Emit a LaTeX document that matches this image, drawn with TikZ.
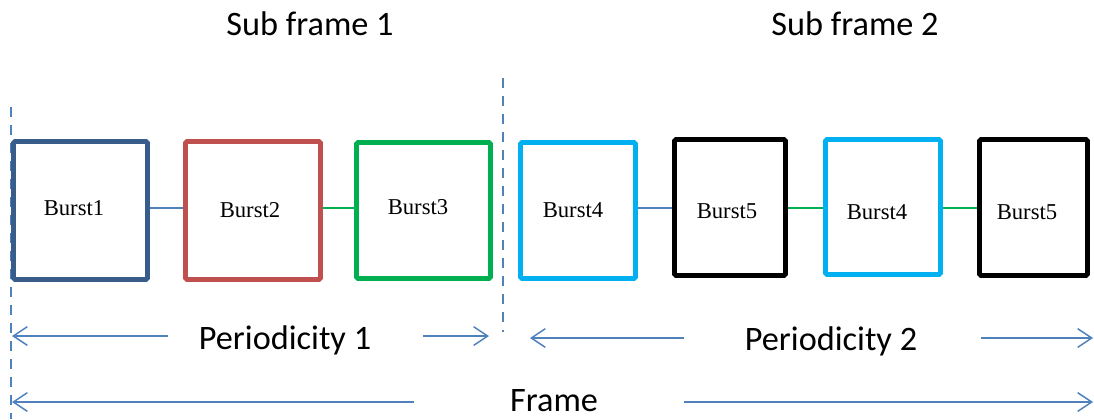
\documentclass[tikz,border=0pt]{standalone}
\usepackage{fontspec}
\setmainfont{Liberation Serif}
\newfontfamily\labfont{Carlito}
\usetikzlibrary{arrows.meta}
\definecolor{bdark}{HTML}{385D8A}
\definecolor{bred}{HTML}{C0504D}
\definecolor{bgreen}{HTML}{00B050}
\definecolor{bcyan}{HTML}{00B0F0}
\definecolor{lblue}{HTML}{4F81BD}
\begin{document}
\begin{tikzpicture}[x=0.75pt,y=-0.75pt,
  burst/.style n args={3}{draw=#1, line width=3.6pt, rounded corners=1.2pt,
    minimum width=#2*0.75pt, minimum height=#3*0.75pt, inner sep=0pt, fill=white},
  btext/.style={font=\fontsize{17}{20}\selectfont, inner sep=0pt},
  ltext/.style={font=\labfont\fontsize{25.7}{30}\selectfont, inner sep=0pt},
  link/.style={draw=#1, line width=1.1pt},
  sep/.style={draw=lblue, line width=1.1pt, dash pattern=on 7.5pt off 6pt},
  dim/.style={draw=lblue, line width=1.1pt, -{Straight Barb[length=10.5pt, width=14pt, line width=1.1pt]}}]
\useasboundingbox (0,0) rectangle (1094,419);

% section separators
\coordinate (d1t) at (11,107);
\coordinate (d1b) at (11,419);
\coordinate (d2t) at (503,78);
\coordinate (d2b) at (503,332);
\draw[sep] (d1t) -- (d1b);
\draw[sep] (d2t) -- (d2b);

% bursts
\node[burst={bdark}{134}{138}]  (b1) at (80.5,210.5) {};
\node[burst={bred}{135}{138}]   (b2) at (253,210.5) {};
\node[burst={bgreen}{134}{136}] (b3) at (423.5,210.5) {};
\node[burst={bcyan}{115}{136}]  (b4) at (578,210.5) {};
\node[burst={black}{111}{136}]  (b5) at (730,207.5) {};
\node[burst={bcyan}{115}{135}]  (b6) at (883,207) {};
\node[burst={black}{108}{136}]  (b7) at (1033.5,207.5) {};

\node[btext] (t1) at (74,208) {Burst1};
\node[btext] (t2) at (250,210) {Burst2};
\node[btext] (t3) at (418,207) {Burst3};
\node[btext] (t4) at (573,210) {Burst4};
\node[btext] (t5) at (727,211) {Burst5};
\node[btext] (t6) at (877,212) {Burst4};
\node[btext] (t7) at (1027,212) {Burst5};

% links between bursts, all on one level
\coordinate (lvl) at (0,208);
\draw[link=lblue]  (b1.east |- lvl) -- (b2.west |- lvl);
\draw[link=bgreen] (b2.east |- lvl) -- (b3.west |- lvl);
\draw[link=lblue]  (b4.east |- lvl) -- (b5.west |- lvl);
\draw[link=bgreen] (b5.east |- lvl) -- (b6.west |- lvl);
\draw[link=bgreen] (b6.east |- lvl) -- (b7.west |- lvl);

% titles
\node[ltext] (sf1) at (310,24) {Sub frame 1};
\node[ltext] (sf2) at (855,24) {Sub frame 2};

% periodicity and frame spans
\node[ltext] (p1) at (285,340) {Periodicity 1};
\node[ltext] (p2) at (831,341) {Periodicity 2};
\node[ltext] (fr) at (554,401) {Frame};

\coordinate (p1l) at (12,336);
\coordinate (p1a) at (168,336);
\coordinate (p1b) at (423,336);
\coordinate (p1r) at (489,336);
\coordinate (p2l) at (530,338);
\coordinate (p2a) at (684,338);
\coordinate (p2b) at (981,338);
\coordinate (p2r) at (1093,338);
\coordinate (fl)  at (12,402);
\coordinate (fa)  at (414,402);
\coordinate (fb)  at (684,402);
\coordinate (frr) at (1093,402);

\draw[dim] (p1a) -- (p1l);
\draw[dim] (p1b) -- (p1r);
\draw[dim] (p2a) -- (p2l);
\draw[dim] (p2b) -- (p2r);
\draw[dim] (fa) -- (fl);
\draw[dim] (fb) -- (frr);
\end{tikzpicture}
\end{document}
